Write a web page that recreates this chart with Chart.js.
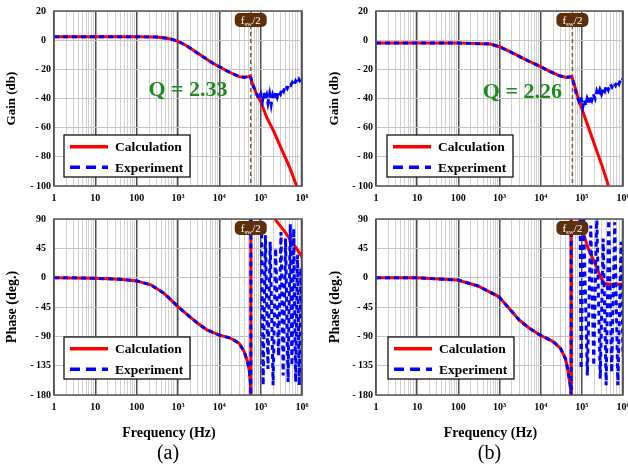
<!DOCTYPE html>
<html lang="en">
<head>
<meta charset="UTF-8">
<title>Gain and phase, calculation vs experiment</title>
<style>
  body { margin: 0; background: #fff; }
  #wrap { position: relative; width: 628px; height: 474px; }
  canvas { position: absolute; }
</style>
</head>
<body>
<div id="wrap">
  <canvas id="gainA" width="314" height="205" style="left:0px;top:0px"></canvas>
  <canvas id="phaseA" width="314" height="269" style="left:0px;top:205px"></canvas>
  <canvas id="gainB" width="314" height="205" style="left:314px;top:0px"></canvas>
  <canvas id="phaseB" width="314" height="269" style="left:314px;top:205px"></canvas>
</div>
<script src="https://cdn.jsdelivr.net/npm/chart.js"></script>
<script>
// ---- tick labels ----
const xTickLabels = ['1', '10', '100', '10³', '10⁴', '10⁵', '10⁶'];
const gainTickValues = [-100, -80, -60, -40, -20, 0, 20];
const phaseTickValues = [-180, -135, -90, -45, 0, 45, 90];

// ---- (a) Q = 2.33 ----
const fswA = 5.75e4;
const gainCalcFreqA = [1, 10, 100, 300, 500, 700, 1e3, 1.5e3, 2e3, 3e3, 5e3, 7e3, 1e4, 1.5e4, 2e4, 3e4, 4e4, 5e4, 5.6e4, 6.5e4, 8e4, 1e5, 1.4e5, 2e5, 3e5, 5e5, 7.4e5];
const gainCalcA = [2.4, 2.4, 2.4, 2.1, 1.5, 0.6, -0.8, -3.3, -5.6, -9, -13.1, -15.8, -18.2, -21, -22.7, -25, -25.5, -25, -24.5, -31, -37, -42, -53, -61.5, -73, -87, -100];
const gainExpFreqA = [1, 3, 10, 30, 100, 300, 500, 700, 1e3, 1.5e3, 2e3, 3e3, 5e3, 7e3, 1e4, 1.5e4, 2e4, 3e4, 4e4, 5e4, 5.6e4, 6.2e4, 7e4, 8e4, 9e4, 1e5, 1.1e5, 1.2e5, 1.3e5, 1.4e5, 1.5e5, 1.65e5, 1.8e5, 1.95e5, 2.1e5, 2.3e5, 2.5e5, 2.7e5, 3.0e5, 3.3e5, 3.6e5, 4.0e5, 4.4e5, 4.8e5, 5.3e5, 5.8e5, 6.4e5, 7.0e5, 7.7e5, 8.5e5, 9.3e5, 1e6];
const gainExpA = [2.4, 2.4, 2.4, 2.4, 2.4, 2.1, 1.5, 0.6, -0.8, -3.3, -5.6, -9, -13.1, -15.8, -18.2, -21, -22.7, -25, -25.5, -25, -24.5, -29, -33, -37, -40, -37, -42, -36, -41, -38, -43, -37, -44, -38, -41, -36, -39, -35, -37, -33, -35, -31, -33, -30, -31, -29, -31, -28, -30, -27, -29, -27];
const phaseCalcFreqA = [1, 10, 40, 100, 220, 460, 1e3, 1.7e3, 3e3, 5e3, 1e4, 1.9e4, 3e4, 4e4, 4.8e4, 5.3e4, 5.65e4, 5.8e4, 5.8e4, 1e5, 1.6e5, 2.2e5, 3.9e5, 6.2e5, 1e6];
const phaseCalcA = [0, -1, -2.5, -5, -11, -24, -44.5, -57, -70, -80, -88, -93, -100.6, -113.5, -129, -142, -160, -180, 180, 130, 105, 90, 70, 52, 32];
const phaseExpFreqA = [1, 3, 10, 40, 100, 220, 460, 1e3, 1.7e3, 3e3, 5e3, 1e4, 1.9e4, 3e4, 4e4, 4.8e4, 5.3e4, 5.65e4, 5.8e4, 5.8e4, 8e4, 1.05e5, 1.15e5, 1.3e5, 1.5e5, 1.7e5, 2.0e5, 2.3e5, 2.7e5, 3.1e5, 3.5e5, 4.0e5, 4.6e5, 5.2e5, 5.7e5, 6.3e5, 7.0e5, 7.8e5, 8.6e5, 9.4e5, 1e6];
const phaseExpA = [0, 0, -1, -2.5, -5, -11, -24, -44.5, -57, -70, -80, -88, -93, -100.6, -113.5, -129, -142, -160, -180, 180, 140, 75, -165, 65, -140, 55, -165, 45, -120, 70, -150, 60, -160, 82, -135, 75, -160, 35, -165, 15, -60];

// ---- (b) Q = 2.26 ----
const fswB = 5.9e4;
const gainCalcFreqB = [1, 10, 100, 200, 590, 1e3, 1.8e3, 3.1e3, 5.5e3, 1e4, 1.7e4, 3e4, 4.3e4, 5.7e4, 6.5e4, 8e4, 1e5, 1.5e5, 2e5, 3e5, 4.4e5];
const gainCalcB = [-2, -2, -2, -2.2, -2.6, -4.5, -7.9, -11.3, -14.8, -18.2, -21.6, -24.6, -25.5, -25, -30, -39, -47, -61, -71, -85, -99.5];
const gainExpFreqB = [1, 3, 10, 30, 100, 200, 590, 1e3, 1.8e3, 3.1e3, 5.5e3, 1e4, 1.7e4, 3e4, 4.3e4, 5.7e4, 6.5e4, 7.5e4, 8.5e4, 9.5e4, 1.05e5, 1.15e5, 1.25e5, 1.35e5, 1.5e5, 1.6e5, 1.75e5, 1.9e5, 2.1e5, 2.3e5, 2.5e5, 2.75e5, 3.0e5, 3.3e5, 3.6e5, 4.0e5, 4.4e5, 4.9e5, 5.4e5, 6.0e5, 6.6e5, 7.3e5, 8.0e5, 8.8e5, 9.5e5, 1e6];
const gainExpB = [-2, -2, -2, -2, -2, -2.2, -2.6, -4.5, -7.9, -11.3, -14.8, -18.2, -21.6, -24.6, -25.5, -25, -31, -38, -42, -39, -46, -41, -45, -40, -43, -38, -41, -37, -40, -35, -38, -34, -37, -33, -35, -31, -34, -30, -32, -29, -31, -28, -30, -27, -28, -26];
const phaseCalcFreqB = [1, 10, 96, 300, 470, 955, 2e3, 3e3, 5.3e3, 9.6e3, 2e4, 3e4, 4e4, 4.5e4, 5.2e4, 5.5e4, 5.5e4, 7e4, 9e4, 1.09e5, 1.44e5, 2.2e5, 3e5, 3.6e5, 5e5, 1e6];
const phaseCalcB = [0, 0, -3.5, -12.7, -19, -29, -52, -65, -77.6, -88, -98, -108, -124, -139, -164, -180, 180, 130, 90, 68, 44, 18, -2, -9, -10, -10];
const phaseExpFreqB = [1, 3, 10, 96, 300, 470, 955, 2e3, 3e3, 5.3e3, 9.6e3, 2e4, 3e4, 4e4, 4.5e4, 5.2e4, 5.5e4, 5.5e4, 7.5e4, 9.1e4, 9.6e4, 1.1e5, 1.36e5, 1.65e5, 1.95e5, 2.3e5, 2.8e5, 3.3e5, 3.9e5, 4.5e5, 5.3e5, 6.3e5, 7.5e5, 9e5, 1e6];
const phaseExpB = [0, 0, 0, -3.5, -12.7, -19, -29, -52, -65, -77.6, -88, -98, -108, -124, -139, -164, -180, 180, 140, 95, -140, 95, -150, 80, -135, 95, -155, 60, -165, 95, -145, 85, -165, 55, -120];

const SERIF = '"Liberation Serif", "Times New Roman", serif';
Chart.defaults.font.family = SERIF;

const pts = (fs, vs) => fs.map((f, i) => ({ x: f, y: vs[i] }));
const isDecade = v => Math.abs(Math.log10(v) - Math.round(Math.log10(v))) < 1e-9;
const yLabel = v => v < 0 ? '- ' + (-v) : v + '\u2002';

// grid positions 1..9 per decade
const xGridValues = [];
for (let e = 0; e < 6; e++) for (let m = 1; m <= 9; m++) xGridValues.push(m * Math.pow(10, e));
xGridValues.push(1e6);

function roundRect(ctx, x, y, w, h, r) {
  ctx.beginPath();
  ctx.moveTo(x + r, y);
  ctx.arcTo(x + w, y, x + w, y + h, r);
  ctx.arcTo(x + w, y + h, x, y + h, r);
  ctx.arcTo(x, y + h, x, y, r);
  ctx.arcTo(x, y, x + w, y, r);
  ctx.closePath();
}

// frame, f_sw/2 marker, Q label, legend box, axis caption
const decor = {
  id: 'decor',
  beforeDatasetsDraw(chart, args, o) {
    const { ctx, chartArea: a } = chart;
    const px = chart.scales.x.getPixelForValue(o.fsw);
    ctx.save();
    ctx.strokeStyle = '#8b5a2b';
    ctx.lineWidth = 1.5;
    ctx.setLineDash([4, 3]);
    ctx.beginPath();
    ctx.moveTo(px, a.top);
    ctx.lineTo(px, a.bottom);
    ctx.stroke();
    ctx.restore();
  },
  afterDatasetsDraw(chart, args, o) {
    const { ctx, chartArea: a } = chart;
    const xs = chart.scales.x, ys = chart.scales.y;
    ctx.save();
    ctx.strokeStyle = '#555';
    ctx.lineWidth = 1.5;
    ctx.strokeRect(a.left, a.top, a.right - a.left, a.bottom - a.top);

    // f_sw/2 tag
    const px = xs.getPixelForValue(o.fsw);
    ctx.fillStyle = '#5e2f0b';
    roundRect(ctx, px - 16, a.top + 2, 32, 14, 5);
    ctx.fill();
    ctx.fillStyle = '#fff';
    ctx.textBaseline = 'alphabetic';
    ctx.textAlign = 'left';
    const big = '11px ' + SERIF, small = '7px ' + SERIF;
    ctx.font = big; const w1 = ctx.measureText('f').width, w3 = ctx.measureText('/2').width;
    ctx.font = small; const w2 = ctx.measureText('sw').width;
    let tx = px - (w1 + w2 + w3) / 2;
    const by = a.top + 12.5;
    ctx.font = big; ctx.fillText('f', tx, by); tx += w1;
    ctx.font = small; ctx.fillText('sw', tx, by + 2); tx += w2;
    ctx.font = big; ctx.fillText('/2', tx, by);

    // Q label
    if (o.q) {
      ctx.font = 'bold 22px ' + SERIF;
      ctx.fillStyle = '#1e8b1e';
      ctx.textAlign = 'center';
      ctx.fillText(o.q.text, xs.getPixelForValue(o.q.f), ys.getPixelForValue(o.q.v));
    }

    // legend
    const lx = a.left + o.legend.dx, ly = a.top + o.legend.dy;
    ctx.fillStyle = '#fff';
    ctx.fillRect(lx, ly, 126, 42);
    ctx.strokeStyle = '#000';
    ctx.lineWidth = 1.2;
    ctx.strokeRect(lx, ly, 126, 42);
    chart.data.datasets.forEach((ds, i) => {
      const cy = ly + 11.7 + i * 20.6;
      ctx.strokeStyle = ds.borderColor;
      ctx.lineWidth = 3.5;
      ctx.setLineDash(ds.borderDash ? [10, 6] : []);
      ctx.beginPath();
      ctx.moveTo(lx + 6, cy);
      ctx.lineTo(lx + 44, cy);
      ctx.stroke();
      ctx.setLineDash([]);
      ctx.fillStyle = '#000';
      ctx.font = 'bold 13.5px ' + SERIF;
      ctx.textAlign = 'left';
      ctx.textBaseline = 'middle';
      ctx.fillText(ds.label, lx + 51, cy + 1);
    });

    // x title and panel caption
    if (o.caption) {
      const cx = (a.left + a.right) / 2;
      ctx.fillStyle = '#000';
      ctx.textAlign = 'center';
      ctx.textBaseline = 'alphabetic';
      ctx.font = 'bold 14px ' + SERIF;
      ctx.fillText('Frequency (Hz)', cx - 9, a.bottom + 42);
      ctx.font = '20px ' + SERIF;
      ctx.fillText(o.caption, cx - 10, a.bottom + 64);
    }
    ctx.restore();
  }
};

function bodeChart(id, cfg) {
  const tickFont = { family: SERIF, size: 10, weight: 'bold' };
  return new Chart(document.getElementById(id), {
    type: 'line',
    data: {
      datasets: [
        { label: 'Calculation', data: pts(cfg.calcFreq, cfg.calc), borderColor: '#ff0000', borderWidth: 3, pointRadius: 0, tension: 0, order: 1 },
        { label: 'Experiment', data: pts(cfg.expFreq, cfg.exp), borderColor: '#0000ff', borderWidth: 3, borderDash: [5, 4], pointRadius: 0, tension: 0, order: 0 }
      ]
    },
    options: {
      responsive: false,
      animation: false,
      events: [],
      layout: { padding: { top: cfg.padTop, right: cfg.padRight, left: 0, bottom: 0 } },
      plugins: { legend: { display: false }, tooltip: { enabled: false }, decor: cfg.decor },
      scales: {
        x: {
          type: 'logarithmic', min: 1, max: 1e6,
          afterBuildTicks: s => { s.ticks = xGridValues.map(v => ({ value: v, major: isDecade(v) })); },
          afterFit: s => { s.height = cfg.xHeight; s.paddingLeft = 0; s.paddingRight = 0; },
          border: { display: false },
          grid: {
            drawTicks: false,
            color: c => c.tick && c.tick.major ? '#4d4d4d' : '#d0d0d0',
            lineWidth: c => c.tick && c.tick.major ? 1.5 : 1
          },
          ticks: {
            autoSkip: false, maxRotation: 0, padding: 6, color: '#000', font: tickFont,
            callback: v => isDecade(v) ? xTickLabels[Math.round(Math.log10(v))] : ''
          }
        },
        y: {
          min: cfg.ticks[0], max: cfg.ticks[cfg.ticks.length - 1],
          afterBuildTicks: s => { s.ticks = cfg.ticks.map(v => ({ value: v })); },
          afterFit: s => { s.width = cfg.yWidth; s.paddingTop = 0; s.paddingBottom = 0; },
          border: { display: false },
          grid: { drawTicks: false, color: '#c4c4c4', lineWidth: 1 },
          ticks: { padding: 3, color: '#000', font: tickFont, callback: yLabel },
          title: {
            display: true, text: cfg.yTitle, color: '#000',
            font: { family: SERIF, size: cfg.yTitleSize, weight: 'bold' },
            padding: { top: cfg.yTitlePad, bottom: 0 }
          }
        }
      }
    },
    plugins: [decor]
  });
}

bodeChart('gainA', {
  calcFreq: gainCalcFreqA, calc: gainCalcA, expFreq: gainExpFreqA, exp: gainExpA,
  ticks: gainTickValues, yTitle: 'Gain (db)', yTitleSize: 13, yTitlePad: 4,
  padTop: 11, padRight: 12, xHeight: 19, yWidth: 54,
  decor: { fsw: fswA, q: { text: 'Q = 2.33', f: 1.75e3, v: -38.3 }, legend: { dx: 10, dy: 124 } }
});
bodeChart('phaseA', {
  calcFreq: phaseCalcFreqA, calc: phaseCalcA, expFreq: phaseExpFreqA, exp: phaseExpA,
  ticks: phaseTickValues, yTitle: 'Phase (deg.)', yTitleSize: 14, yTitlePad: 4,
  padTop: 14, padRight: 12, xHeight: 79, yWidth: 54,
  decor: { fsw: fswA, legend: { dx: 10, dy: 118 }, caption: '(a)' }
});
bodeChart('gainB', {
  calcFreq: gainCalcFreqB, calc: gainCalcB, expFreq: gainExpFreqB, exp: gainExpB,
  ticks: gainTickValues, yTitle: 'Gain (db)', yTitleSize: 13, yTitlePad: 12.5,
  padTop: 11, padRight: 5, xHeight: 19, yWidth: 62,
  decor: { fsw: fswB, q: { text: 'Q = 2.26', f: 3.6e3, v: -39.7 }, legend: { dx: 11, dy: 124 } }
});
bodeChart('phaseB', {
  calcFreq: phaseCalcFreqB, calc: phaseCalcB, expFreq: phaseExpFreqB, exp: phaseExpB,
  ticks: phaseTickValues, yTitle: 'Phase (deg.)', yTitleSize: 14, yTitlePad: 12.5,
  padTop: 14, padRight: 5, xHeight: 79, yWidth: 62,
  decor: { fsw: fswB, legend: { dx: 12, dy: 118 }, caption: '(b)' }
});
</script>
</body>
</html>
